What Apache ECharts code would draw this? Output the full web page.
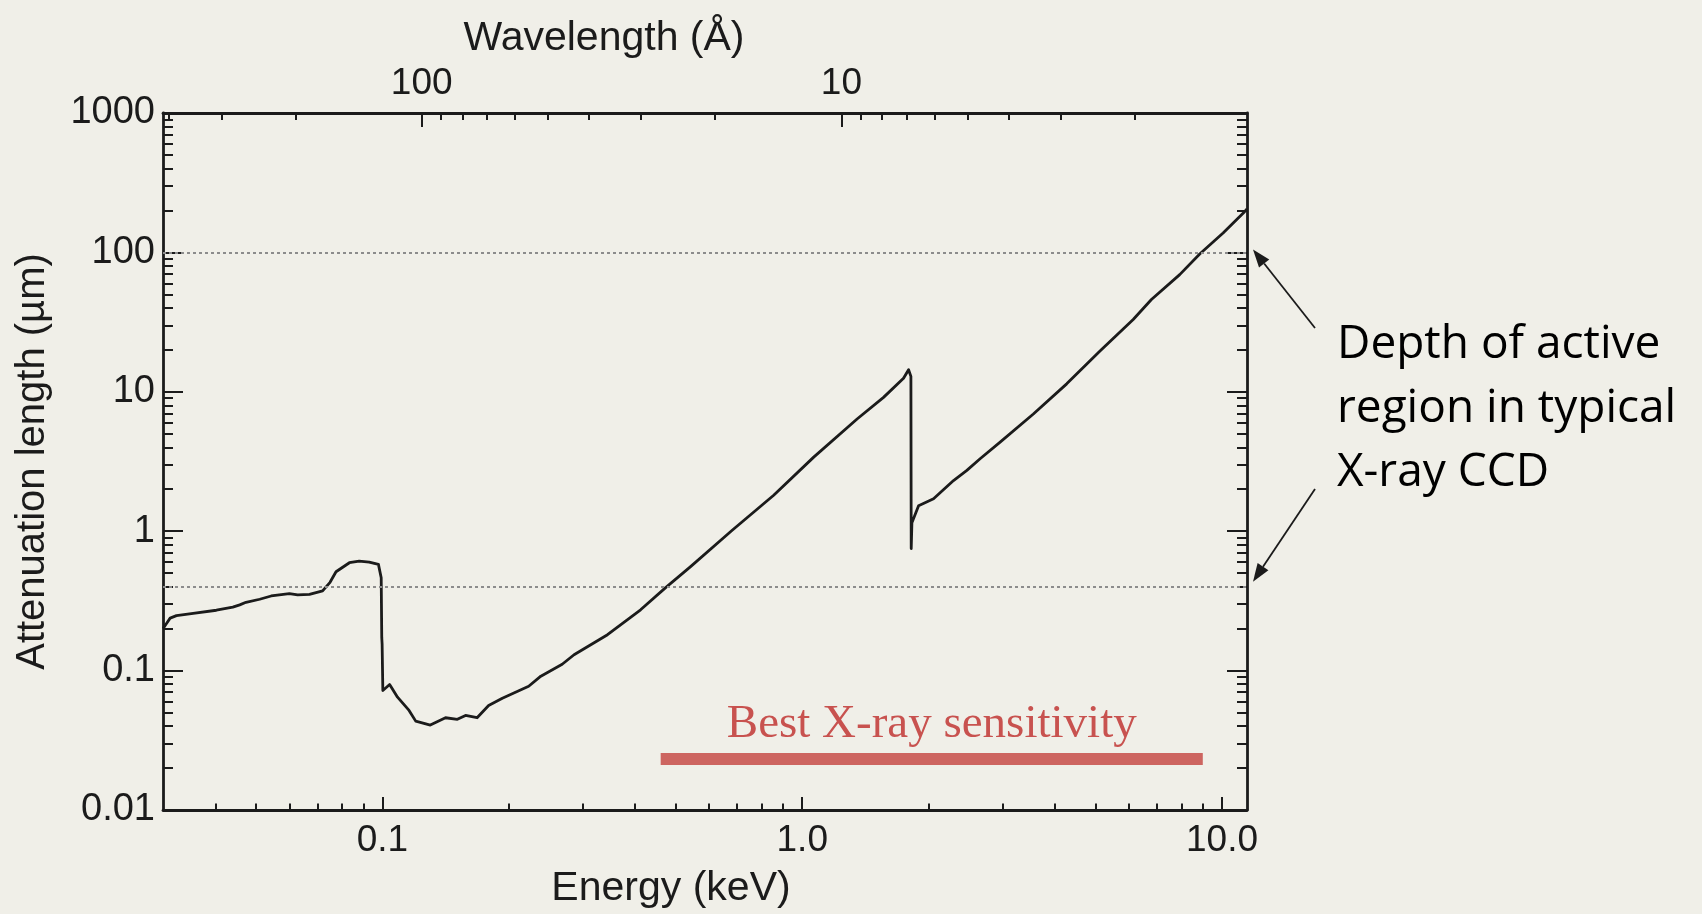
<!DOCTYPE html>
<html>
<head>
<meta charset="utf-8">
<script src="https://cdn.jsdelivr.net/npm/echarts@6/dist/echarts.min.js"></script>
<style>
html,body{margin:0;padding:0;background:#f0efe8;}
#c{width:1702px;height:914px;}
</style>
</head>
<body>
<div id="c"></div>
<script>
// ---------------- data ----------------
const energy = [
  0.0300, 0.0305, 0.0312, 0.0323, 0.0354, 0.0402, 0.0440, 0.0457, 0.0473, 0.0510,
  0.0543, 0.0600, 0.0628, 0.0670, 0.0720, 0.0750, 0.0775, 0.0834, 0.0880, 0.0930,
  0.0978, 0.0993, 0.0996, 0.0998, 0.1002, 0.1040, 0.1086, 0.1157, 0.1200, 0.1300,
  0.1413, 0.1508, 0.1577, 0.1680, 0.1790, 0.1930, 0.2230, 0.2384, 0.2680, 0.2860,
  0.3436, 0.4120, 0.4727, 0.5420, 0.6810, 0.8550, 1.0650, 1.3510, 1.5620, 1.7430,
  1.7920, 1.8150, 1.8180, 1.8250, 1.8930, 2.0550, 2.2930, 2.4670, 2.6530, 2.9610,
  3.5530, 4.2660, 5.1210, 6.1440, 6.7900, 7.9300, 8.8500, 10.060, 11.320, 11.470
];
const attenuation = [
  0.200, 0.215, 0.238, 0.248, 0.257, 0.271, 0.285, 0.296, 0.309, 0.325,
  0.343, 0.357, 0.349, 0.352, 0.373, 0.430, 0.512, 0.594, 0.611, 0.601,
  0.578, 0.464, 0.173, 0.155, 0.072, 0.0794, 0.0645, 0.0518, 0.0434, 0.0407,
  0.0459, 0.0447, 0.0477, 0.0459, 0.0562, 0.0634, 0.0772, 0.0912, 0.111, 0.130,
  0.181, 0.273, 0.394, 0.557, 1.017, 1.81, 3.40, 6.38, 9.12, 12.5,
  14.4, 12.9, 0.75, 1.15, 1.52, 1.71, 2.31, 2.73, 3.31, 4.35,
  6.93, 11.4, 19.6, 33.0, 45.9, 69.3, 97.4, 137.6, 196, 205
];

const energyRange = [0.03, 11.47];            // keV
const attenuationRange = [0.01, 1000];        // µm
const HC = 12.398;                            // keV·Å, E = HC / λ

const energyMajorTicks = [0.1, 1, 10];
const energyTickLabels = ['0.1', '1.0', '10.0'];
const energyMinorTicks = [0.04, 0.05, 0.06, 0.07, 0.08, 0.09,
  0.2, 0.3, 0.4, 0.5, 0.6, 0.7, 0.8, 0.9, 2, 3, 4, 5, 6, 7, 8, 9];

const wavelengthMajorTicks = [100, 10];
const wavelengthTickLabels = ['100', '10'];
const wavelengthMinorTicks = [400, 300, 200, 90, 80, 70, 60, 50, 40, 30, 20,
  9, 8, 7, 6, 5, 4, 3, 2];

const lengthMajorTicks = [0.01, 0.1, 1, 10, 100, 1000];
const lengthTickLabels = ['0.01', '0.1', '1', '10', '100', '1000'];
const lengthMinorTicks = [
  0.02, 0.03, 0.04, 0.05, 0.06, 0.07, 0.08, 0.09,
  0.2, 0.3, 0.4, 0.5, 0.6, 0.7, 0.8, 0.9,
  2, 3, 4, 5, 6, 7, 8, 9,
  20, 30, 40, 50, 60, 70, 80, 90,
  200, 300, 400, 500, 600, 700, 800, 900];

const ccdDepthLevels = [100, 0.4];            // µm, dotted reference lines
const sensitivityBand = [0.46, 9.0];          // keV
const sensitivityLevel = 0.0234;              // µm (vertical placement of band)
const sensitivityText = 'Best X-ray sensitivity';
const annotationLines = ['Depth of active', 'region in typical', 'X-ray CCD'];

// ---------------- style ----------------
const INK = '#1b1b1b';
const RED = '#cd6560';
const SANS = '"Liberation Sans", Arial, Helvetica, sans-serif';

function labelFor(ticks, labels) {
  return function (v) {
    for (let i = 0; i < ticks.length; i++) {
      if (Math.abs(Math.log10(v) - Math.log10(ticks[i])) < 1e-6) return labels[i];
    }
    return '';
  };
}

function hAxis(opts) {
  return Object.assign({
    type: 'log', logBase: 10,
    gridIndex: 0,
    splitLine: { show: false },
    minorTick: { show: false },
    minorSplitLine: { show: false },
    axisPointer: { show: false },
    silent: true
  }, opts);
}

const eMin = energyRange[0], eMax = energyRange[1];
const lamMin = HC / eMax, lamMax = HC / eMin;

const xAxes = [
  hAxis({ // energy, major ticks + labels + frame
    position: 'bottom', min: eMin, max: eMax,
    axisLine: { show: true, lineStyle: { color: INK, width: 2.8 } },
    axisTick: { show: true, inside: true, length: 13, lineStyle: { color: INK, width: 2 }, customValues: energyMajorTicks },
    axisLabel: { show: true, margin: 12, fontFamily: SANS, fontSize: 37, color: INK,
      customValues: energyMajorTicks, formatter: labelFor(energyMajorTicks, energyTickLabels) },
    name: 'Energy (keV)', nameLocation: 'middle', nameGap: 58,
    nameTextStyle: { fontFamily: SANS, fontSize: 41, color: INK, padding: [0, 68, 0, 0] }
  }),
  hAxis({ // energy minor ticks
    position: 'bottom', min: eMin, max: eMax,
    axisLine: { show: false },
    axisTick: { show: true, inside: true, length: 6.5, lineStyle: { color: INK, width: 2 }, customValues: energyMinorTicks },
    axisLabel: { show: false }
  }),
  hAxis({ // wavelength, major
    position: 'top', min: lamMin, max: lamMax, inverse: true,
    axisLine: { show: true, lineStyle: { color: INK, width: 2.8 } },
    axisTick: { show: true, inside: true, length: 14, lineStyle: { color: INK, width: 2 }, customValues: wavelengthMajorTicks },
    axisLabel: { show: true, margin: 11, fontFamily: SANS, fontSize: 37, color: INK,
      customValues: wavelengthMajorTicks, formatter: labelFor(wavelengthMajorTicks, wavelengthTickLabels) },
    name: 'Wavelength (Å)', nameLocation: 'middle', nameGap: 54,
    nameTextStyle: { fontFamily: SANS, fontSize: 41, color: INK, padding: [0, 202, 0, 0] }
  }),
  hAxis({ // wavelength minor
    position: 'top', min: lamMin, max: lamMax, inverse: true,
    axisLine: { show: false },
    axisTick: { show: true, inside: true, length: 7, lineStyle: { color: INK, width: 2 }, customValues: wavelengthMinorTicks },
    axisLabel: { show: false }
  })
];

const yAxes = [
  hAxis({
    position: 'left', min: attenuationRange[0], max: attenuationRange[1],
    axisLine: { show: true, lineStyle: { color: INK, width: 2.8 } },
    axisTick: { show: true, inside: true, length: 20, lineStyle: { color: INK, width: 2 }, customValues: lengthMajorTicks },
    axisLabel: { show: true, margin: 8, fontFamily: SANS, fontSize: 38, color: INK,
      customValues: lengthMajorTicks, formatter: labelFor(lengthMajorTicks, lengthTickLabels) },
    name: 'Attenuation length (µm)', nameLocation: 'middle', nameGap: 110, nameRotate: 90,
    nameTextStyle: { fontFamily: SANS, fontSize: 40, color: INK }
  }),
  hAxis({
    position: 'left', min: attenuationRange[0], max: attenuationRange[1],
    axisLine: { show: false },
    axisTick: { show: true, inside: true, length: 10, lineStyle: { color: INK, width: 2 }, customValues: lengthMinorTicks },
    axisLabel: { show: false }
  }),
  hAxis({
    position: 'right', min: attenuationRange[0], max: attenuationRange[1],
    axisLine: { show: true, lineStyle: { color: INK, width: 2.8 } },
    axisTick: { show: true, inside: true, length: 20, lineStyle: { color: INK, width: 2 }, customValues: lengthMajorTicks },
    axisLabel: { show: false }
  }),
  hAxis({
    position: 'right', min: attenuationRange[0], max: attenuationRange[1],
    axisLine: { show: false },
    axisTick: { show: true, inside: true, length: 10, lineStyle: { color: INK, width: 2 }, customValues: lengthMinorTicks },
    axisLabel: { show: false }
  })
];

const chart = echarts.init(document.getElementById('c'), null, { renderer: 'canvas' });

const curveData = energy.map((e, i) => [e, attenuation[i]]);

chart.setOption({
  animation: false,
  backgroundColor: '#f0efe8',
  grid: { left: 163, right: 455, top: 113, bottom: 101, containLabel: false },
  xAxis: xAxes,
  yAxis: yAxes,
  series: [
    {
      type: 'line',
      xAxisIndex: 0, yAxisIndex: 0,
      data: curveData,
      showSymbol: false, symbol: 'none',
      lineStyle: { color: INK, width: 2.8, join: 'round' },
      clip: true,
      z: 3,
      markLine: {
        silent: true, symbol: 'none', animation: false,
        lineStyle: { color: '#8c8c8c', width: 2, type: [3, 3] },
        label: { show: false },
        data: ccdDepthLevels.map(v => ({ yAxis: v }))
      }
    },
    {
      type: 'line',
      xAxisIndex: 0, yAxisIndex: 0,
      data: [],
      z: 2,
      markLine: {
        silent: true, symbol: 'none', animation: false,
        lineStyle: { color: RED, width: 12, type: 'solid', cap: 'butt' },
        label: {
          show: true, position: 'middle', distance: 10,
          formatter: sensitivityText,
          fontFamily: '"Liberation Serif", "Times New Roman", serif',
          fontSize: 47, color: '#c8524f'
        },
        data: [[
          { coord: [sensitivityBand[0], sensitivityLevel] },
          { coord: [sensitivityBand[1], sensitivityLevel] }
        ]]
      }
    }
  ]
});

// ---- annotation: text + arrows pointing at the CCD depth levels on the right frame ----
function arrow(from, to) {
  const dx = to[0] - from[0], dy = to[1] - from[1];
  const len = Math.sqrt(dx * dx + dy * dy);
  const ux = dx / len, uy = dy / len;
  const headL = 18, headW = 6.5;
  const bx = to[0] - ux * headL, by = to[1] - uy * headL;
  return [
    { type: 'line', shape: { x1: from[0], y1: from[1], x2: bx, y2: by },
      style: { stroke: INK, lineWidth: 1.8 }, silent: true, z: 10 },
    { type: 'polygon', shape: { points: [to, [bx - uy * headW, by + ux * headW], [bx + uy * headW, by - ux * headW]] },
      style: { fill: INK }, silent: true, z: 10 }
  ];
}

const frameRight = chart.convertToPixel({ xAxisIndex: 0 }, eMax);
const tipTop = [frameRight + 6, chart.convertToPixel({ yAxisIndex: 0 }, ccdDepthLevels[0]) - 3];
const tipBottom = [frameRight + 6, chart.convertToPixel({ yAxisIndex: 0 }, ccdDepthLevels[1]) - 5];

const textX = 1337;
const lineCenters = [345, 409, 473];
const annFont = '46px "Open Sans", Lato, sans-serif';
const graphics = annotationLines.map((t, i) => ({
  type: 'text', x: textX, y: lineCenters[i], silent: true, z: 10,
  style: { text: t, font: annFont, fill: '#000', textAlign: 'left', textVerticalAlign: 'middle' }
}));
graphics.push(...arrow([1315, 328], tipTop));
graphics.push(...arrow([1315, 489], tipBottom));

chart.setOption({ graphic: graphics });
</script>
</body>
</html>
